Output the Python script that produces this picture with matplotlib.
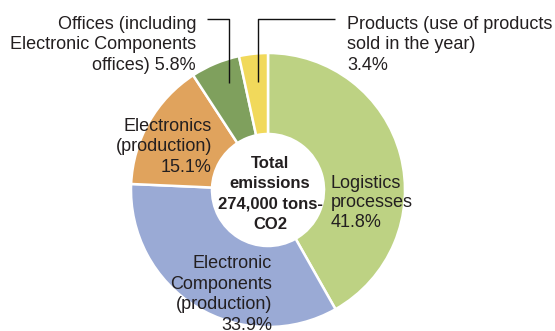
import matplotlib
matplotlib.use("Agg")
import matplotlib.pyplot as plt

categories = ["Logistics processes", "Electronic Components (production)",
              "Electronics (production)", "Offices (including Electronic Components offices)",
              "Products (use of products sold in the year)"]
shares = [41.8, 33.9, 15.1, 5.8, 3.4]
colors = ["#bdd283", "#9aaad5", "#e0a35d", "#7fa05d", "#f1d95b"]
total_label = "Total\nemissions\n274,000 tons-\nCO2"

plt.rcParams["font.family"] = ["Liberation Sans", "DejaVu Sans"]
TXT = "#231f20"

W, H = 555, 331
CX, CY, R = 268, 190, 137

def px(x, y):
    return (x - CX) / R, (CY - y) / R

fig = plt.figure(figsize=(W / 100, H / 100), dpi=100)
ax = fig.add_axes([0, 0, 1, 1])

ax.pie(shares, colors=colors, startangle=90, counterclock=False, radius=1.0,
       wedgeprops=dict(width=1 - 56 / R, edgecolor="white", linewidth=1.8))
ax.set_xlim(-CX / R, (W - CX) / R)
ax.set_ylim(-(H - CY) / R, CY / R)
ax.set_aspect("auto")
ax.axis("off")

fs = 13
ls = 1.28

# center text (anchored at the baseline of the last line)
ax.text(*px(270, 229), total_label, ha="center", va="baseline", fontsize=12,
        fontweight="bold", color=TXT, linespacing=1.45)

# slice labels
ax.text(*px(331, 227), f"Logistics\nprocesses\n{shares[0]}%", ha="left", va="baseline",
        fontsize=fs, color=TXT, linespacing=1.2)
ax.text(*px(272, 330), f"Electronic\nComponents\n(production)\n{shares[1]}%", ha="right",
        va="baseline", fontsize=fs, color=TXT, linespacing=ls, multialignment="right")
ax.text(*px(212, 172), f"Electronics\n(production)\n{shares[2]}%", ha="right", va="baseline",
        fontsize=fs, color=TXT, linespacing=ls, multialignment="right")
ax.text(*px(196, 70), f"Offices (including\nElectronic Components\noffices) {shares[3]}%",
        ha="right", va="baseline", fontsize=fs, color=TXT, linespacing=ls,
        multialignment="right")
ax.text(*px(347, 70), f"Products (use of products\nsold in the year)\n{shares[4]}%",
        ha="left", va="baseline", fontsize=fs, color=TXT, linespacing=ls)

# leader lines
x0, y0 = px(207, 19); x1, _ = px(229, 19); _, y1 = px(229, 83)
ax.plot([x0, x1, x1], [y0, y0, y1], color="#111111", lw=1.0, solid_capstyle="butt")
x0, y0 = px(335, 19); x1, _ = px(258, 19); _, y1 = px(258, 82)
ax.plot([x0, x1, x1], [y0, y0, y1], color="#111111", lw=1.0, solid_capstyle="butt")

fig.savefig("out.png", dpi=100)
